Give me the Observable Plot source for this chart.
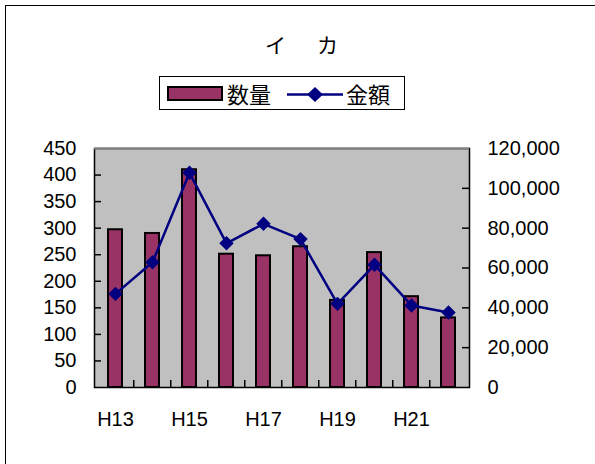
<!DOCTYPE html>
<html><head><meta charset="utf-8">
<script src="https://cdn.jsdelivr.net/npm/d3@7"></script>
<script src="https://cdn.jsdelivr.net/npm/@observablehq/plot@0.6"></script>
<style>
body{margin:0;background:#fff;font-family:"Liberation Sans","Noto Sans CJK JP",sans-serif;}
#wrap{position:relative;width:595px;height:464px;overflow:hidden;background:#fff;}
#border{position:absolute;left:5px;top:5px;width:800px;height:800px;border:1px solid #000;}
#title{position:absolute;left:265px;top:30px;font-size:21px;line-height:28px;letter-spacing:5px;white-space:pre;font-family:"Noto Sans CJK JP",sans-serif;}
#legend{position:absolute;left:159px;top:76px;width:246px;height:34px;border:1px solid #000;box-sizing:border-box;background:#fff;}
#legend .t{position:absolute;top:0px;font-size:22px;line-height:32px;font-family:"Noto Sans CJK JP",sans-serif;}
#legend svg{position:absolute;}
#chart{position:absolute;left:0;top:0;}
</style>
</head><body>
<div id="wrap">
  <div id="border"></div>
  <div id="title">イ　カ</div>
  <div id="legend">
    <svg style="left:7px;top:9px" width="57" height="16"><rect x="1" y="1" width="54" height="13" fill="#993366" stroke="#000" stroke-width="2"/></svg>
    <span class="t" style="left:67px">数量</span>
    <svg style="left:127px;top:9px" width="58" height="18"><line x1="0" y1="8.5" x2="56" y2="8.5" stroke="#000080" stroke-width="2.5"/><path d="M28,1 L36,8.5 L28,16 L20,8.5 Z" fill="#000080"/></svg>
    <span class="t" style="left:186px">金額</span>
  </div>
  <div id="chart"></div>
</div>
<script>
const years = ["H13","H14","H15","H16","H17","H18","H19","H20","H21","H22"];
const quantity = [297, 290, 410, 251, 248, 265, 164, 254, 171, 131];
const amount = [47000, 62900, 107800, 72400, 82200, 74500, 42000, 61600, 41200, 37700];
const leftTicks = [0, 50, 100, 150, 200, 250, 300, 350, 400, 450];
const rightTicks = [0, 20000, 40000, 60000, 80000, 100000, 120000];
const xLabels = ["H13", "H15", "H17", "H19", "H21"];

const W = 595, H = 464, mL = 94, mR = 126, mT = 148, mB = 77;
const plotW = W - mL - mR, plotH = H - mT - mB;
const k = 450 / 120000;
const rows = years.map((y, i) => ({year: y, q: quantity[i], a: amount[i] * k}));
const step = plotW / years.length;
const font = '"Liberation Sans","Noto Sans CJK JP",sans-serif';

const chart = Plot.plot({
  width: W, height: H, marginLeft: mL, marginRight: mR, marginTop: mT, marginBottom: mB,
  style: {fontFamily: font, fontSize: "20px", color: "#000", background: "transparent", overflow: "visible"},
  x: {domain: years, paddingInner: 0.62, paddingOuter: 0.31, align: 0.5},
  y: {domain: [0, 450]},
  marks: [
    Plot.frame({fill: "#c0c0c0"}),
    Plot.barY(rows, {x: "year", y: "q", fill: "#993366", stroke: "#000", strokeWidth: 2}),
    Plot.line(rows, {x: "year", y: "a", stroke: "#000080", strokeWidth: 2.5}),
    Plot.dot(rows, {x: "year", y: "a", symbol: "diamond2", r: 6.5, fill: "#000080", stroke: "none"}),
    Plot.frame({stroke: "#000", strokeWidth: 1.5}),
    Plot.ruleY([450], {stroke: "#808080", strokeWidth: 2}),
    Plot.tickY(leftTicks.slice(1, -1), {y: d => d, insetRight: plotW - 7, stroke: "#000", strokeWidth: 1.5}),
    Plot.tickY(rightTicks.slice(1, -1).map(d => d * k), {y: d => d, insetLeft: plotW - 7, stroke: "#000", strokeWidth: 1.5}),
    Plot.tickX(years.slice(1), {x: d => d, insetTop: plotH - 7, dx: -step / 2, stroke: "#000", strokeWidth: 1.5}),
    Plot.axisY(leftTicks, {anchor: "left", tickSize: 0, tickPadding: 18, fontSize: 20, label: null}),
    Plot.axisY(rightTicks.map(d => d * k), {anchor: "right", tickSize: 0, tickPadding: 18, fontSize: 20, label: null,
      tickFormat: d => d3.format(",")(Math.round(d / k))}),
    Plot.axisX(xLabels, {anchor: "bottom", tickSize: 0, tickPadding: 24, fontSize: 20, label: null})
  ]
});
document.getElementById("chart").appendChild(chart);
</script>
</body></html>
